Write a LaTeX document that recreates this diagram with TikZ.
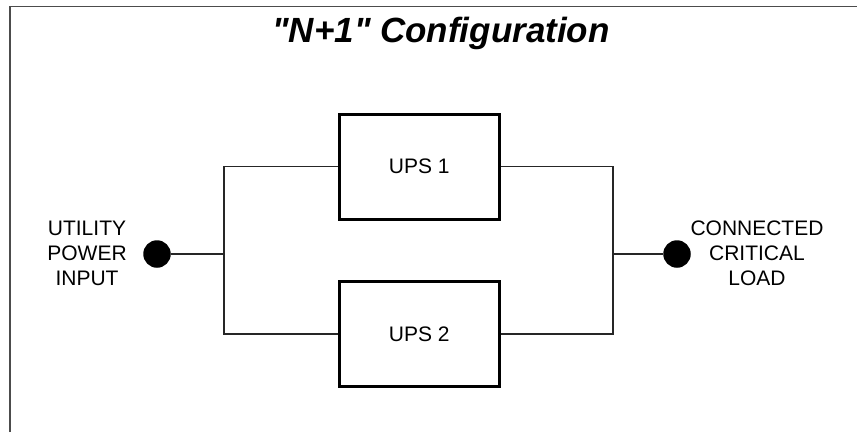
\documentclass[tikz,border=0pt]{standalone}
\usepackage{fontspec}
\setmainfont{Liberation Sans}
\begin{document}
\begin{tikzpicture}[x=1pt,y=-1pt,
  upsbox/.style={draw=black,line width=3pt,minimum width=159.5pt,minimum height=105pt,inner sep=0pt,font=\fontsize{21}{25}\selectfont},
  dot/.style={circle,fill=black,draw=none,minimum size=27.5pt,inner sep=0pt},
  wire/.style={draw=black!85,line width=1.2pt},
  lbl/.style={align=center,font=\fontsize{21}{25}\selectfont,inner sep=0pt}]
\useasboundingbox (0,0) rectangle (857,432);
\draw[draw=black!70,line width=1.5pt] (10,432) -- (10,6.5) -- (857,6.5);
\node[font=\fontsize{35}{40}\selectfont\bfseries\itshape] (title) at (441,33) {\textquotedbl N+1\textquotedbl{} Configuration};
\node[upsbox] (ups1) at (419.25,166.5) {UPS 1};
\node[upsbox] (ups2) at (419.25,334) {UPS 2};
\node[dot] (in) at (157,254) {};
\node[dot] (out) at (677,254) {};
\coordinate (jl) at (224,254);
\coordinate (jr) at (613,254);
\node[lbl] (inlbl) at (87,253) {UTILITY\\POWER\\INPUT};
\node[lbl] (outlbl) at (757,253) {CONNECTED\\CRITICAL\\LOAD};
\draw[wire] (in) -- (jl);
\draw[wire] (ups1.west) -| (jl) |- (ups2.west);
\draw[wire] (ups1.east) -| (jr) |- (ups2.east);
\draw[wire] (jr) -- (out);
\end{tikzpicture}
\end{document}
